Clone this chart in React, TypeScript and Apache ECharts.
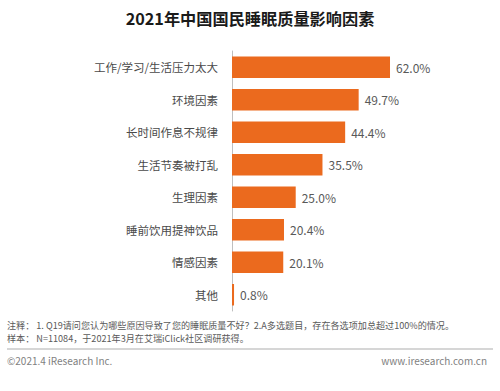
import React, { useEffect, useRef } from "react";
import * as echarts from "echarts";

const title = "2021年中国国民睡眠质量影响因素";
const categories = [
  "工作/学习/生活压力太大",
  "环境因素",
  "长时间作息不规律",
  "生活节奏被打乱",
  "生理因素",
  "睡前饮用提神饮品",
  "情感因素",
  "其他",
];
const values = [62.0, 49.7, 44.4, 35.5, 25.0, 20.4, 20.1, 0.8];
const noteLines = [
  "注释： 1. Q19请问您认为哪些原因导致了您的睡眠质量不好？2.A多选题目，存在各选项加总超过100%的情况。",
  "样本： N=11084，于2021年3月在艾瑞iClick社区调研获得。",
];
const footerLeft = "©2021.4 iResearch Inc.";
const footerRight = "www.iresearch.com.cn";

const FONT = "'Microsoft YaHei', 'Noto Sans CJK SC', 'Noto Sans', sans-serif";

export default function App() {
  const ref = useRef<HTMLDivElement>(null);
  useEffect(() => {
    if (!ref.current) return;
    const chart = echarts.init(ref.current, null, { renderer: "svg" });
    chart.setOption({
      animation: false,
      backgroundColor: "#ffffff",
      title: {
        text: title,
        left: "center",
        top: 5,
        textStyle: { fontFamily: FONT, fontSize: 16.2, fontWeight: "bold", color: "#1a1a1a" },
      },
      grid: { left: 232, top: 51, width: 178.4, height: 260 },
      xAxis: {
        type: "value",
        min: 0,
        max: 70,
        show: false,
      },
      yAxis: {
        type: "category",
        data: categories,
        inverse: true,
        axisLine: { show: true, lineStyle: { color: "#bfbfbf", width: 1 } },
        axisTick: { show: false },
        axisLabel: { fontFamily: FONT, fontSize: 11.5, color: "#4a4a4a", margin: 14 },
      },
      series: [
        {
          type: "bar",
          data: values,
          barCategoryGap: "34%",
          itemStyle: { color: "#EB6A1E" },
          label: {
            show: true,
            position: "right",
            distance: 6,
            fontFamily: FONT,
            fontSize: 12,
            color: "#595959",
            formatter: (p: any) => p.value.toFixed(1) + "%",
          },
        },
      ],
      graphic: [
        {
          type: "text",
          left: 7,
          top: 320,
          style: { text: noteLines[0], fontFamily: FONT, fontSize: 9.1, fill: "#595959" },
        },
        {
          type: "text",
          left: 7,
          top: 333,
          style: { text: noteLines[1], fontFamily: FONT, fontSize: 9.1, fill: "#595959" },
        },
        {
          type: "line",
          shape: { x1: 7, y1: 349, x2: 493, y2: 349 },
          style: { stroke: "#c8c8c8", lineWidth: 1.5 },
        },
        {
          type: "text",
          left: 7,
          top: 355,
          style: { text: footerLeft, fontFamily: FONT, fontSize: 10, fill: "#7f7f7f" },
        },
        {
          type: "text",
          right: 13,
          top: 355,
          style: { text: footerRight, fontFamily: FONT, fontSize: 10, fill: "#7f7f7f" },
        },
      ],
    });
    return () => chart.dispose();
  }, []);
  return <div ref={ref} style={{ width: 500, height: 391, position: "absolute", left: 0, top: 0 }} />;
}
